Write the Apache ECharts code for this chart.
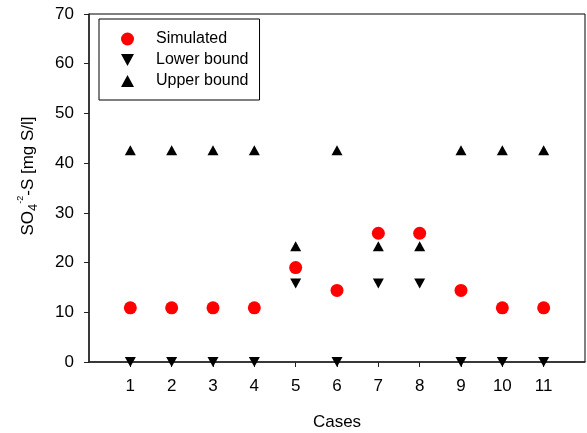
<!DOCTYPE html>
<html>
<head>
<meta charset="utf-8">
<script src="https://cdn.jsdelivr.net/npm/echarts@6/dist/echarts.min.js"></script>
<style>
  html, body { margin: 0; padding: 0; background: #fff; }
  #main { width: 587px; height: 433px; }
</style>
</head>
<body>
<div id="main"></div>
<script>
// 数据
var cases = [1, 2, 3, 4, 5, 6, 7, 8, 9, 10, 11];
var simulated = [10.9, 10.9, 10.9, 10.9, 19.0, 14.4, 25.9, 25.9, 14.4, 10.9, 10.9];
var lowerBound = [0, 0, 0, 0, 15.8, 0, 15.8, 15.8, 0, 0, 0];
var upperBound = [42.6, 42.6, 42.6, 42.6, 23.3, 42.6, 23.3, 23.3, 42.6, 42.6, 42.6];
var yTicks = [0, 10, 20, 30, 40, 50, 60, 70];

function pairs(vals) {
  return cases.map(function(c, i) { return [c, vals[i]]; });
}

(function() {
  var myChart = echarts.init(document.getElementById("main"));
  var font = "Liberation Sans, Arial, sans-serif";
  var option = {
    animation: false,
    textStyle: { fontFamily: font },
    grid: {
      left: 89,
      right: 2,
      top: 14,
      bottom: 71,
      outerBoundsMode: "none",
      containLabel: false,
      show: true,
      borderColor: "#000",
      borderWidth: 1
    },
    legend: {
      orient: "vertical",
      left: 99,
      top: 19,
      padding: [12, 11, 11, 22],
      borderColor: "#000",
      borderWidth: 1,
      itemWidth: 13,
      itemHeight: 13,
      itemGap: 5,
      textStyle: { fontSize: 16, color: "#000", fontFamily: font, padding: [0, 0, 0, 17] },
      data: [
        { name: "Simulated", icon: "circle", itemStyle: { color: "#ff0000", opacity: 1 } },
        { name: "Lower bound", icon: "path://M0,0L11,0L5.5,10Z", itemStyle: { color: "#000", opacity: 1 } },
        { name: "Upper bound", icon: "path://M5.5,0L11,10L0,10Z", itemStyle: { color: "#000", opacity: 1 } }
      ]
    },
    xAxis: {
      type: "value",
      min: 0,
      max: 12,
      interval: 1,
      name: "Cases",
      nameLocation: "middle",
      nameGap: 52,
      nameTextStyle: { fontSize: 17, color: "#000", fontFamily: font },
      splitLine: { show: false },
      axisLine: { onZero: false, lineStyle: { color: "#222", width: 1.5 } },
      axisTick: { length: 5, lineStyle: { color: "#222" }, customValues: cases },
      axisLabel: { fontSize: 17, color: "#000", margin: 16, customValues: cases }
    },
    yAxis: {
      type: "value",
      min: 0,
      max: 70,
      interval: 10,
      name: "{n|SO}{sub|4}{sup|-2}{n|-S [mg S/l]}",
      nameLocation: "middle",
      nameGap: 49,
      nameTextStyle: {
        fontFamily: font,
        color: "#000",
        padding: [0, 0, 0, 24],
        rich: {
          n: { fontSize: 17, lineHeight: 24, verticalAlign: "middle", fontFamily: font },
          sub: { fontSize: 13, lineHeight: 24, verticalAlign: "bottom", fontFamily: font },
          sup: { fontSize: 9, lineHeight: 24, verticalAlign: "top", fontFamily: font }
        }
      },
      splitLine: { show: false },
      axisLine: { show: true, lineStyle: { color: "#222", width: 1.5 } },
      axisTick: { length: 5, lineStyle: { color: "#222" } },
      axisLabel: { fontSize: 17, color: "#000", margin: 15, customValues: yTicks }
    },
    series: [
      {
        name: "Simulated",
        type: "scatter",
        symbol: "circle",
        symbolSize: 13,
        itemStyle: { color: "#ff0000", opacity: 1 },
        clip: false,
        z: 3,
        data: pairs(simulated)
      },
      {
        name: "Lower bound",
        type: "scatter",
        symbol: "triangle",
        symbolRotate: 180,
        symbolSize: [11, 10],
        itemStyle: { color: "#000", opacity: 1 },
        clip: false,
        z: 4,
        data: pairs(lowerBound)
      },
      {
        name: "Upper bound",
        type: "scatter",
        symbol: "triangle",
        symbolSize: [11, 10],
        itemStyle: { color: "#000", opacity: 1 },
        clip: false,
        z: 4,
        data: pairs(upperBound)
      }
    ]
  };
  myChart.setOption(option);
  window.addEventListener("resize", function() {
    myChart.resize();
  });
})();
</script>
</body>
</html>
